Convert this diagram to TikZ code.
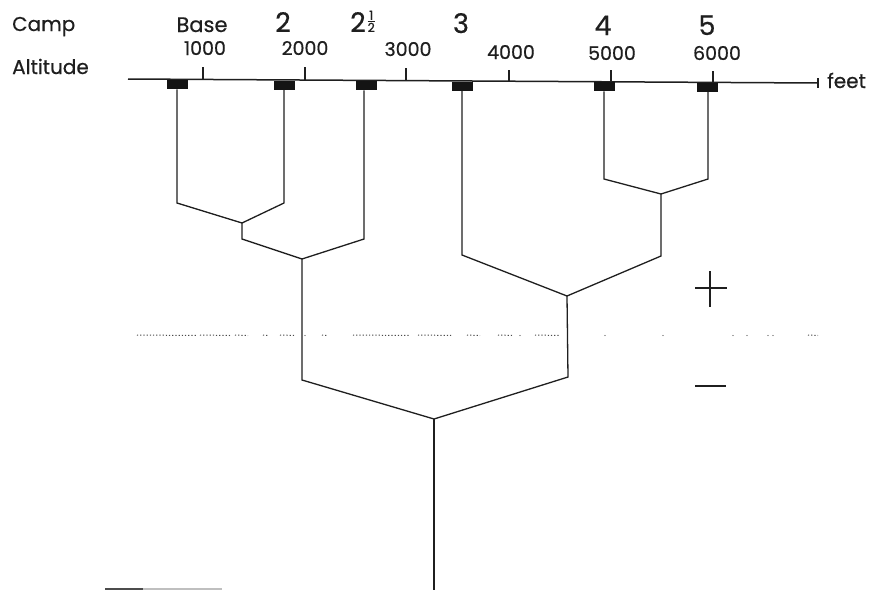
\documentclass[tikz,border=0pt]{standalone}
\usepackage{fontspec}
\setmainfont{Poppins}[FakeBold=0.5]
\begin{document}
\begin{tikzpicture}[x=1pt,y=-1pt,
  ink/.style={black!88},
  branch/.style={ink, line width=1.3pt, line join=miter},
  axisline/.style={ink, line width=1.5pt},
  ticks/.style={ink, line width=1.2pt},
  word/.style={ink, inner sep=0, anchor=base west, font=\fontsize{20}{20}\selectfont},
  campno/.style={ink, inner sep=0, anchor=base, font=\fontsize{27}{27}\selectfont},
  altno/.style={ink, inner sep=0, anchor=base, font=\fontsize{19}{19}\selectfont},
  marker/.style={fill=black!92, draw=none, minimum width=21pt, minimum height=9pt, inner sep=0, anchor=north},
  dots/.style={black!70, line width=1pt, dash pattern=on 1.2pt off 2pt},
  sign/.style={ink, line width=1.3pt}
]
\useasboundingbox (0,0) rectangle (873,590);
\fill[white] (0,0) rectangle (873,590);

% row labels
\node[word] (lcamp) at (12,31) {Camp};
\node[word] (lalt) at (12,74) {Altitude};
\node[word] (lfeet) at (827,88) {feet};

% camp names
\node[campno, font=\fontsize{21}{21}\selectfont] (nbase) at (202,32) {Base};
\node[campno] (n2) at (283,32) {2};
\node[campno, anchor=base west] (n25) at (350,32) {2\kern1pt\vbox{\offinterlineskip\fontsize{12.5}{12.5}\selectfont
   \hbox to 9pt{\hss 1\hss}\kern1.2pt\hbox to 9pt{\hss\vrule width 7pt height 0.6pt\hss}\kern1.2pt\hbox to 9pt{\hss 2\hss}}};
\node[campno] (n3) at (461,33) {3};
\node[campno] (n4) at (603,35) {4};
\node[campno] (n5) at (707,35) {5};

% altitude numbers
\node[altno] (a1) at (205,55) {1000};
\node[altno] (a2) at (305,55) {2000};
\node[altno] (a3) at (408,56) {3000};
\node[altno] (a4) at (511,59) {4000};
\node[altno] (a5) at (612,60) {5000};
\node[altno] (a6) at (717,60) {6000};

% axis
\coordinate (axL) at (128,79);
\coordinate (axR) at (818,83);
\draw[axisline] (axL) -- (axR);
\draw[ticks] (203,67) -- (203,79.8);
\draw[ticks] (305,67) -- (305,80.3);
\draw[ticks] (406,68) -- (406,80.8);
\draw[ticks] (509,70) -- (509,81.3);
\draw[ticks] (611,70) -- (611,81.8);
\draw[ticks] (713,71) -- (713,82.3);
\draw[ticks] (818,78) -- (818,88);

% camp markers
\node[marker] (mb)  at (177,80) {};
\node[marker] (m2)  at (284,80.5) {};
\node[marker] (m25) at (366,81) {};
\node[marker] (m3)  at (462,81.5) {};
\node[marker] (m4)  at (604,82) {};
\node[marker] (m5)  at (707,82.5) {};

% junction coordinates
\coordinate (bL) at (177,203);
\coordinate (j1) at (242,223);
\coordinate (bR) at (284,203);
\coordinate (j1b) at (242,239);
\coordinate (j2) at (302,259);
\coordinate (c25) at (364,239);
\coordinate (j2b) at (302,380);
\coordinate (c4) at (604,179);
\coordinate (j3) at (661,194);
\coordinate (c5) at (708,179);
\coordinate (j3b) at (661,256);
\coordinate (c3) at (462,255);
\coordinate (j4) at (567,296);
\coordinate (j4b) at (568,377);
\coordinate (root) at (434,419);
\coordinate (trunk) at (434,590);

\draw[branch] (mb.south -| bL) -- (bL) -- (j1) -- (bR) -- (m2.south -| bR);
\draw[branch] (j1) -- (j1b) -- (j2) -- (c25) -- (m25.south -| c25);
\draw[branch] (m4.south -| c4) -- (c4) -- (j3) -- (c5) -- (m5.south -| c5);
\draw[branch] (j3) -- (j3b) -- (j4) -- (c3) -- (m3.south -| c3);
\draw[branch] (j2) -- (j2b) -- (root) -- (j4b) -- (j4);
\draw[branch] (root) -- (trunk);

% dotted dividing line
\foreach \a/\b in {137/197,200/230,235/248,263/268,280/295,322/328,353/410,418/453,467/480,498/513,535/560,808/818}
  \draw[dots] (\a,335) -- (\b,335.5);
\foreach \p in {305,520,605,663,733,747,768,773}
  \fill[black!70] (\p,335.5) circle (0.7);

% plus and minus
\coordinate (pl) at (695,288); \coordinate (pr) at (727,288);
\coordinate (pt) at (710,271); \coordinate (pb) at (710,307);
\draw[sign] (pl) -- (pr);
\draw[sign] (pt) -- (pb);
\coordinate (ml) at (695,386); \coordinate (mr) at (726,386);
\draw[sign] (ml) -- (mr);

% bottom-left bar
\coordinate (barA) at (105,589); \coordinate (barB) at (143,589); \coordinate (barC) at (222,589);
\draw[black!70, line width=1.5pt] (barA) -- (barB);
\draw[black!25, line width=1.5pt] (barB) -- (barC);
\end{tikzpicture}
\end{document}
